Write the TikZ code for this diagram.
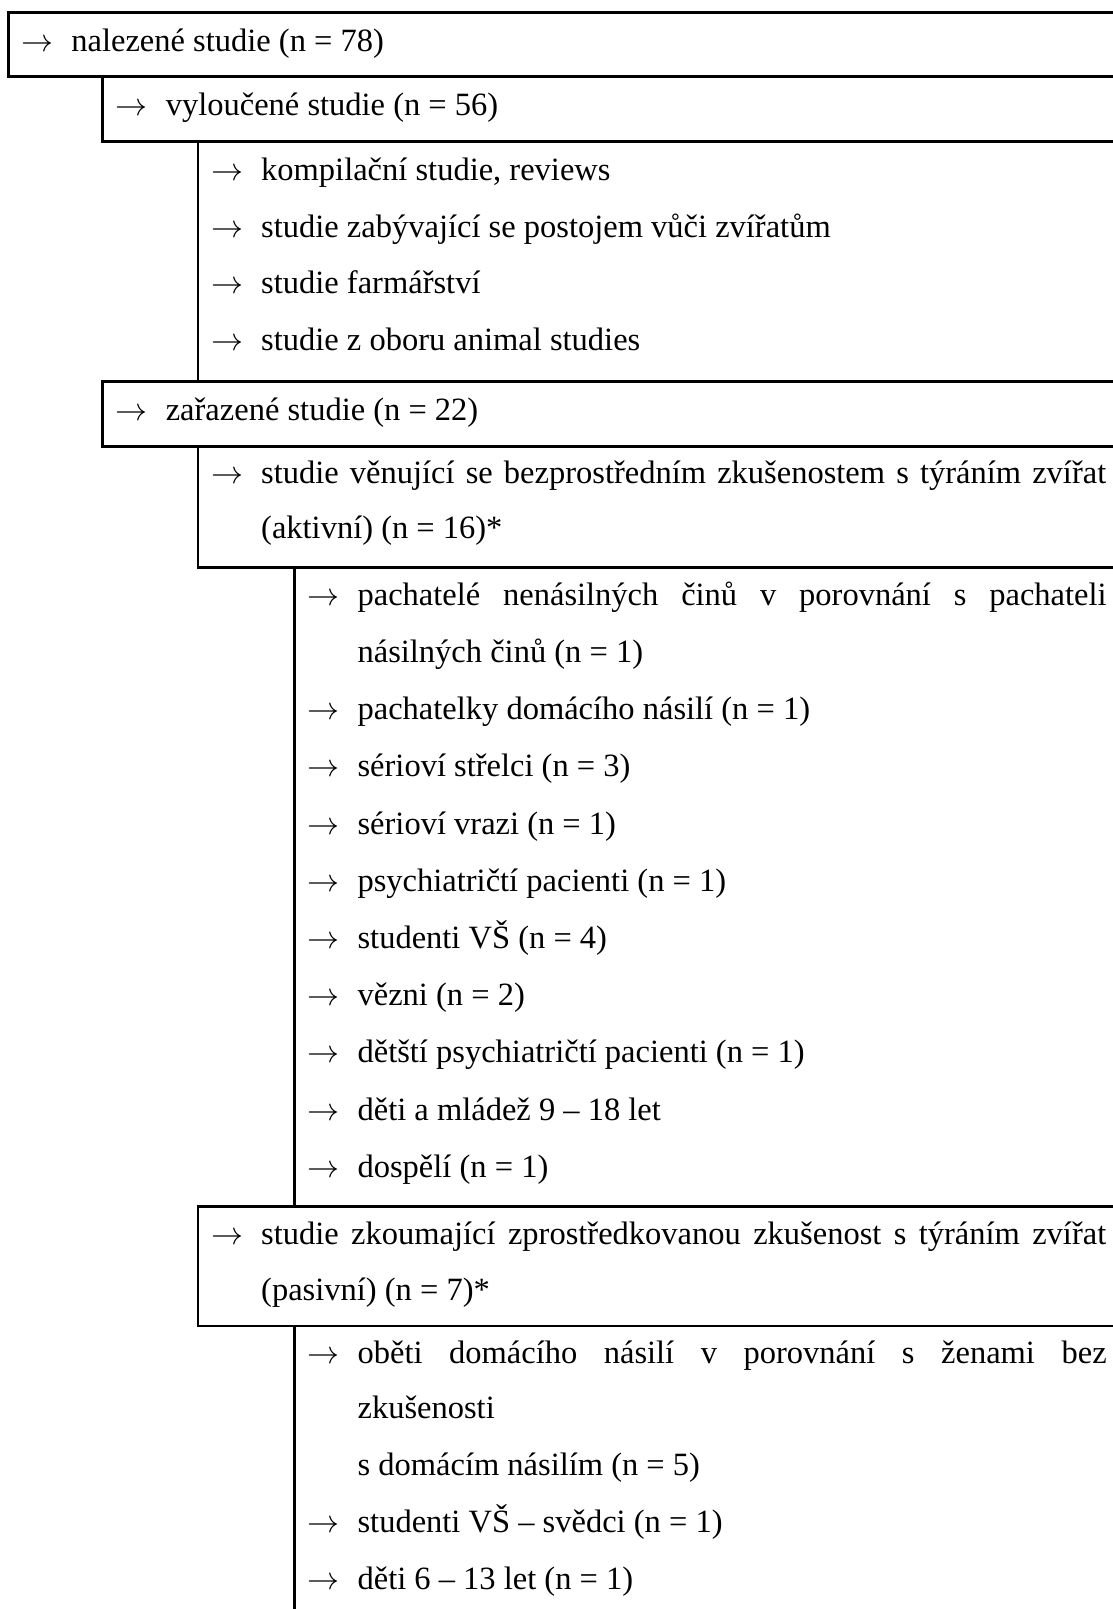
\RequirePackage{fix-cm}
\documentclass[tikz,border=0pt]{standalone}
\usepackage{fontspec}
\setmainfont{Liberation Serif}
\newcommand\myentry[4]{%
  \node[arr] (#1a) at (#2+13,#3) {$\rightarrow$};
  \node[txt] (#1) at (#2+63,#3) {#4};}
\newcommand\mycont[4]{%
  \node[txt] (#1) at (#2+63,#3) {#4};}
\newcommand\myframe[3]{%
  \draw[frame] (1120,#2) -- (#1,#2) -- (#1,#3) -- (1120,#3);}
\begin{document}
\begin{tikzpicture}[x=1pt,y=-1pt,
  txt/.style={anchor=base west,inner sep=0pt,font=\fontsize{32.5}{39}\selectfont},
  arr/.style={anchor=base west,inner sep=0pt,font=\fontsize{32}{39}\selectfont},
  frame/.style={line width=2.6pt,line cap=rect}]
\useasboundingbox (0,0) rectangle (1112,1609);
\def\LA{8.2}\def\LB{102.6}\def\LC{198}\def\LD{294.4}
% frames
\myframe{\LA}{12.3}{76.7}
\myframe{\LB}{76.7}{141.7}
\myframe{\LC}{141.7}{381.7}
\myframe{\LB}{381.7}{446.7}
\myframe{\LC}{446.7}{567.3}
\myframe{\LD}{567.3}{1206.7}
\myframe{\LC}{1206.7}{1326}
\draw[frame] (1120,1326) -- (\LD,1326) -- (\LD,1620);
% level 0
\myentry{t1}{\LA}{51}{nalezené studie (n = 78)}
% level 1
\myentry{t2}{\LB}{115.3}{vyloučené studie (n = 56)}
% level 2
\myentry{t3}{\LC}{180.3}{kompilační studie, reviews}
\myentry{t4}{\LC}{237.3}{studie zabývající se postojem vůči zvířatům}
\myentry{t5}{\LC}{293.8}{studie farmářství}
\myentry{t6}{\LC}{350.5}{studie z oboru animal studies}
% level 1
\myentry{t7}{\LB}{420.3}{zařazené studie (n = 22)}
% level 2
\myentry{t8}{\LC}{483.6}{\makebox[845pt][s]{studie věnující se bezprostředním zkušenostem s týráním zvířat}}
\mycont{t8b}{\LC}{538.6}{(aktivní) (n = 16)*}
% level 3
\myentry{t9}{\LD}{605.3}{\makebox[749pt][s]{pachatelé nenásilných činů v porovnání s pachateli}}
\mycont{t9b}{\LD}{662.5}{násilných činů (n = 1)}
\myentry{t10}{\LD}{719.7}{pachatelky domácího násilí (n = 1)}
\myentry{t11}{\LD}{776.9}{sérioví střelci (n = 3)}
\myentry{t12}{\LD}{834.1}{sérioví vrazi (n = 1)}
\myentry{t13}{\LD}{891.3}{psychiatričtí pacienti (n = 1)}
\myentry{t14}{\LD}{948.5}{studenti VŠ (n = 4)}
\myentry{t15}{\LD}{1005.7}{vězni (n = 2)}
\myentry{t16}{\LD}{1062.9}{dětští psychiatričtí pacienti (n = 1)}
\myentry{t17}{\LD}{1120.1}{děti a mládež 9 – 18 let}
\myentry{t18}{\LD}{1177.3}{dospělí (n = 1)}
% level 2
\myentry{t19}{\LC}{1244.8}{\makebox[845pt][s]{studie zkoumající zprostředkovanou zkušenost s týráním zvířat}}
\mycont{t19b}{\LC}{1300.5}{(pasivní) (n = 7)*}
% level 3
\myentry{t20}{\LD}{1363}{\makebox[749pt][s]{oběti domácího násilí v porovnání s ženami bez}}
\mycont{t20b}{\LD}{1418.7}{zkušenosti}
\mycont{t20c}{\LD}{1475.2}{s domácím násilím (n = 5)}
\myentry{t21}{\LD}{1532}{studenti VŠ – svědci (n = 1)}
\myentry{t22}{\LD}{1589.7}{děti 6 – 13 let (n = 1)}
\end{tikzpicture}
\end{document}
